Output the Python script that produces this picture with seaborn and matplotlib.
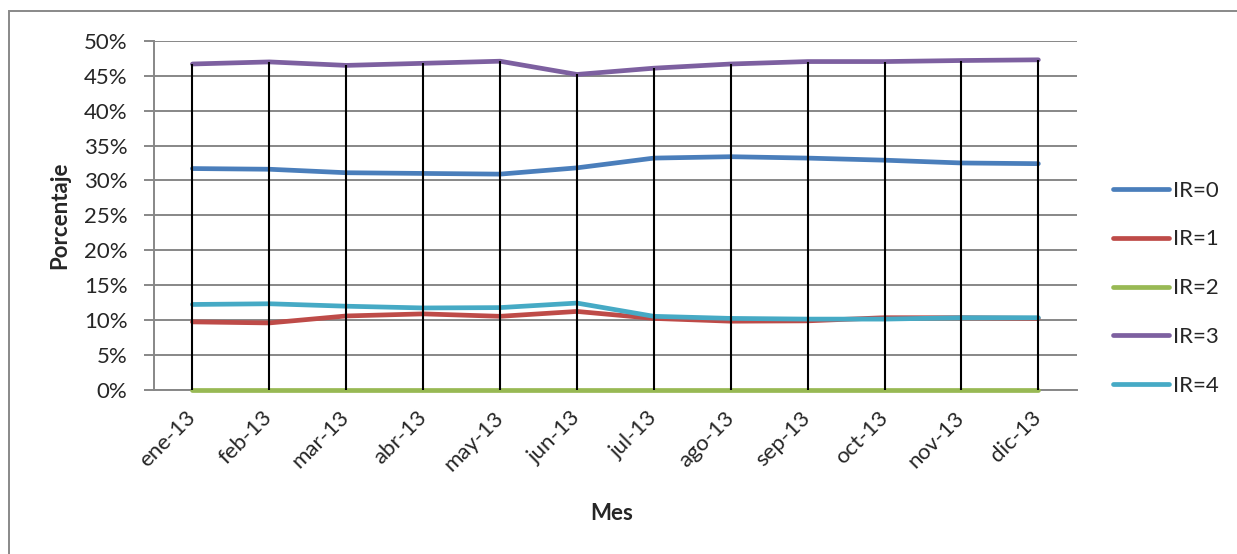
import pandas as pd
import numpy as np
import matplotlib
matplotlib.use("Agg")
import matplotlib.pyplot as plt
import seaborn as sns
from matplotlib import font_manager
from matplotlib.ticker import PercentFormatter, MultipleLocator
from matplotlib.patches import Rectangle

meses = ["ene-13", "feb-13", "mar-13", "abr-13", "may-13", "jun-13",
         "jul-13", "ago-13", "sep-13", "oct-13", "nov-13", "dic-13"]

# porcentajes por mes para cada IR
ir0 = [31.7, 31.6, 31.1, 31.0, 30.9, 31.8, 33.2, 33.4, 33.2, 32.9, 32.5, 32.4]
ir1 = [9.7, 9.55, 10.55, 10.85, 10.5, 11.2, 10.2, 9.8, 9.85, 10.3, 10.3, 10.2]
ir2 = [0, 0, 0, 0, 0, 0, 0, 0, 0, 0, 0, 0]
ir3 = [46.7, 47.0, 46.5, 46.8, 47.1, 45.2, 46.1, 46.7, 47.05, 47.05, 47.2, 47.3]
ir4 = [12.2, 12.3, 11.95, 11.7, 11.75, 12.4, 10.5, 10.2, 10.1, 10.1, 10.3, 10.3]

series = ["IR=0", "IR=1", "IR=2", "IR=3", "IR=4"]
colores = ["#4A7EBB", "#BE4B48", "#98B954", "#7D60A0", "#46AAC5"]

datos = pd.DataFrame({"Mes": meses * 5,
                      "pos": list(range(12)) * 5,
                      "Porcentaje": ir0 + ir1 + ir2 + ir3 + ir4,
                      "IR": sum([[s] * 12 for s in series], [])})

sns.set_style("white")
plt.rcParams["font.family"] = ["Lato", "DejaVu Sans"]
plt.rcParams["font.size"] = 16


def familia_negrita():
    # primera familia que tenga de verdad una version negrita
    for fam in ["Lato", "Open Sans", "Noto Sans", "Liberation Sans", "DejaVu Sans"]:
        try:
            ruta = font_manager.findfont(font_manager.FontProperties(family=fam, weight="bold"),
                                         fallback_to_default=False)
        except Exception:
            continue
        if "bold" in ruta.lower():
            return fam
    return "DejaVu Sans"


W, H = 1237, 554
fig = plt.figure(figsize=(W / 100, H / 100), dpi=100)
ax = fig.add_axes([154 / W, 1 - 389.5 / H, (1076.8 - 154) / W, (389.5 - 41) / H])

gris = "#878787"
ax.yaxis.grid(True, color=gris, linewidth=1.4)
ax.set_axisbelow(True)

sns.lineplot(data=datos, x="pos", y="Porcentaje", hue="IR", palette=colores,
             linewidth=3.4, ax=ax, legend=True, solid_capstyle="round", zorder=4)
for linea in ax.get_lines():
    linea.set_clip_on(False)

# lineas de caida desde el maximo hasta 0
maximos = np.max([ir0, ir1, ir2, ir3, ir4], axis=0)
ax.vlines(range(12), 0, maximos, color="black", linewidth=1.5, zorder=5)

ax.set_xlim(-0.5, 11.5)
ax.set_ylim(0, 50)
ax.yaxis.set_major_locator(MultipleLocator(5))
ax.yaxis.set_major_formatter(PercentFormatter(decimals=0))
ax.set_xticks(range(12))
ax.set_xticklabels(meses, rotation=45, ha="right", va="center", rotation_mode="anchor")
ax.tick_params(axis="x", length=0, pad=18)
ax.tick_params(axis="y", length=7, width=1.4, color=gris, pad=12, left=True)

for lado in ["top", "right"]:
    ax.spines[lado].set_visible(False)
for lado in ["left", "bottom"]:
    ax.spines[lado].set_color(gris)
    ax.spines[lado].set_linewidth(1.4)
    ax.spines[lado].set_zorder(1)

negrita = font_manager.FontProperties(family=familia_negrita(), weight="bold", size=16)
ax.set_xlabel("Mes", fontproperties=negrita)
ax.set_ylabel("Porcentaje", fontproperties=negrita)
ax.xaxis.set_label_coords(0.496, -0.355)
ax.xaxis.label.set_va("center")
ax.yaxis.set_label_coords(-0.102, 0.5)
ax.yaxis.label.set_va("center")

ax.legend(loc="upper left", bbox_to_anchor=(1.03, 0.625), frameon=False,
          handlelength=2.5, handletextpad=0.2, labelspacing=1.3, borderaxespad=0)
for linea in ax.get_legend().get_lines():
    linea.set_linewidth(3.4)
    linea.set_solid_capstyle("round")

fig.patches.append(Rectangle((9 / W, -0.1), 1.2, 1 - 11 / H + 0.1, transform=fig.transFigure,
                             fill=False, edgecolor="#898989", linewidth=1.4))

fig.savefig("out.png", dpi=100)
